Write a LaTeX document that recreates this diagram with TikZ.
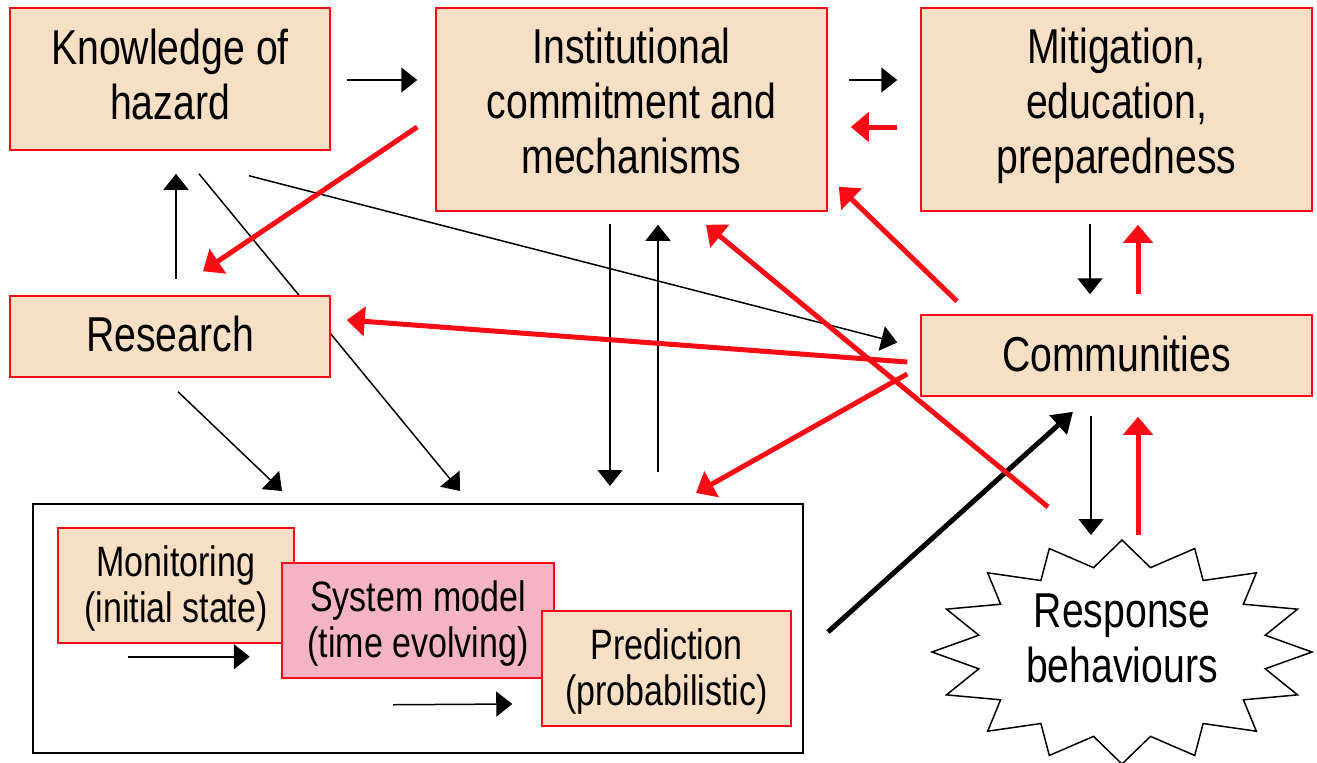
\documentclass[tikz,border=0pt]{standalone}
\usepackage{fontspec}
\setmainfont[FakeStretch=0.8]{Liberation Sans}
\usetikzlibrary{calc,arrows.meta}
\definecolor{peach}{RGB}{246,223,196}
\definecolor{rosy}{RGB}{244,180,197}
\definecolor{boxred}{RGB}{250,12,22}
\pgfdeclarelayer{background}
\pgfsetlayers{background,main}

\begin{document}
\begin{tikzpicture}[x=0.5pt,y=-0.5pt,
	box/.style={draw=boxred, line width=0.75pt, fill=peach, align=center, inner sep=0pt, font=\fontsize{24.5}{27.5}\selectfont},
	small/.style={box, text depth=1pt, font=\fontsize{21.25}{23}\selectfont},
	blk/.style={line width=0.75pt, -{Triangle[length=8pt,width=12.5pt]}},
	redarr/.style={boxred, line width=2.5pt, -{Triangle[length=9pt,width=14.5pt]}},
	bigarr/.style={line width=2.5pt, -{Triangle[length=10pt,width=12.5pt]}}]
	
	\useasboundingbox (0,0) rectangle (1317,762);
	
	\node[box, minimum width=160pt, minimum height=71pt, text depth=5pt] (know) at (170,79) {Knowledge of\\hazard};
	\node[box, minimum width=195.5pt, minimum height=101.5pt, text depth=9pt] (inst) at (631.5,109.5) {Institutional\\commitment and\\mechanisms};
	\node[box, minimum width=195.5pt, minimum height=101.5pt, text depth=9pt] (miti) at (1116.5,109.5) {Mitigation,\\education,\\preparedness};
	\node[box, minimum width=160pt, minimum height=40.5pt, text depth=3pt] (res) at (170,336.5) {Research};
	\node[box, minimum width=195.5pt, minimum height=40.5pt, text depth=2pt] (comm) at (1116.5,355.5) {Communities};
	
	% forecasting chain
	\node[draw, line width=1pt, minimum width=385pt, minimum height=124.5pt] (chain) at (418,628.5) {};
	\node[small, minimum width=118pt, minimum height=57.5pt] (mon) at (176,585.5) {Monitoring\\(initial state)};
	\node[small, fill=rosy, minimum width=136pt, minimum height=57.5pt] (sys) at (418,620.5) {System model\\(time evolving)};
	\node[small, minimum width=124.5pt, minimum height=57.5pt] (pred) at (666.5,668.5) {Prediction\\(probabilistic)};
	\draw[blk] ($(mon.south west)+(71,13)$) -- ($(mon.south east)+(-45,13)$);
	\draw[blk] ($(sys.south)+(-25,26)$) -- ($(pred.west)+(-29,35.5)$);
	
	% response star
	\coordinate (respc) at (1122,652);
	\draw[line width=0.75pt, fill=white] ($(respc)+(90:190 and 112)$)
		\foreach \k in {1,...,16} { -- ($(respc)+({90+\k*22.5-11.25}:146 and 86)$) -- ($(respc)+({90+\k*22.5}:190 and 112)$) } -- cycle;
	\node[align=center, inner sep=0pt, font=\fontsize{24.5}{27.5}\selectfont] (resp) at ($(respc)+(0,-14)$) {Response\\behaviours};
	
	\begin{pgfonlayer}{background}
	\draw[blk] ($(know.east)+(16,1)$) -- ($(inst.west)+(-18,-29.5)$);
	\draw[blk] ($(inst.east)+(21,-29.5)$) -- ($(miti.west)+(-23,-29.5)$);
	\draw[blk] ($(res.north)+(6,-16)$) -- ($(know.south)+(6,23)$);
	\draw[blk] ($(know.south)+(29,23)$) -- ($(chain.north)+(42,-12)$);
	\draw[blk] ($(know.south)+(79,25)$) -- ($(comm.west)+(-23,-13)$);
	\draw[blk] ($(res.south)+(8,14)$) -- ($(chain.north)+(-136,-12)$);
	\draw[blk] ($(inst.south)+(-21.5,12)$) -- ($(chain.north)+(192,-17)$);
	\draw[blk] ($(chain.north)+(240,-31)$) -- ($(inst.south)+(26.5,13)$);
	\draw[blk] ($(miti.south)+(-26.5,12)$) -- ($(comm.north)+(-26.5,-20)$);
	\draw[blk] ($(comm.south)+(-25.5,19)$) -- ($(respc)+(-31,-117)$);
	\draw[bigarr] ($(chain.east)+(24,3.5)$) -- ($(comm.south)+(-43.5,15)$);
	
	\draw[redarr] ($(miti.west)+(-23,17.5)$) -- ($(inst.east)+(23,17.5)$);
	\draw[redarr] ($(comm.north)+(21.5,-20)$) -- ($(miti.south)+(21.5,13)$);
	\draw[redarr] ($(respc)+(16,-117)$) -- ($(comm.south)+(21.5,20)$);
	\draw[redarr] ($(inst.west)+(-18,17.5)$) -- ($(res.north)+(33,-24)$);
	\draw[redarr] ($(comm.west)+(-13,6.5)$) -- ($(res.east)+(16,-16.5)$);
	\draw[redarr] ($(comm.north)+(-159.5,-13)$) -- ($(inst.south east)+(11,-25)$);
	\draw[redarr] ($(respc)+(-74,-145)$) -- ($(inst.south)+(74.5,13)$);
	\draw[redarr] ($(comm.west)+(-13,18.5)$) -- ($(chain.north)+(278,-10)$);
	\end{pgfonlayer}
	
\end{tikzpicture}
\end{document}
